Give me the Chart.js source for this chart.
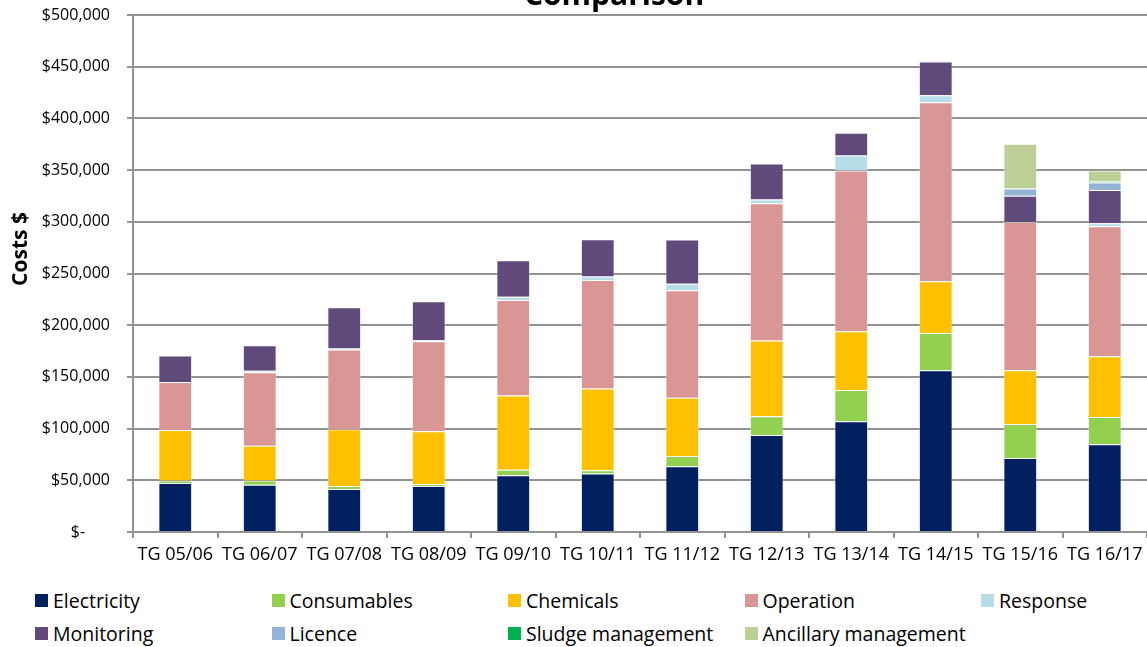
<!DOCTYPE html>
<html>
<head>
<meta charset="utf-8">
<script src="https://cdn.jsdelivr.net/npm/chart.js@4.4.1/dist/chart.umd.min.js"></script>
<style>
    html, body { margin: 0; padding: 0; background: #fff; }
    #wrap { position: relative; width: 1147px; height: 647px; overflow: hidden; font-family: 'Open Sans', sans-serif; }
    #chartBox { position: absolute; left: 0; top: 0; width: 1147px; height: 580px; }
    #legend { position: absolute; left: 35px; top: 584px; display: grid; grid-template-columns: repeat(5, 236.5px); grid-auto-rows: 33px; }
    .item { display: flex; align-items: center; font-size: 19.5px; color: #000; white-space: nowrap; }
    .swatch { width: 13px; height: 13px; margin-right: 5px; flex: none; }
</style>
</head>
<body>
<div id="wrap">
    <div id="chartBox"><canvas id="costChart" width="1147" height="580"></canvas></div>
    <div id="legend"></div>
</div>
<script>
const categories = ['TG 05/06', 'TG 06/07', 'TG 07/08', 'TG 08/09', 'TG 09/10', 'TG 10/11',
    'TG 11/12', 'TG 12/13', 'TG 13/14', 'TG 14/15', 'TG 15/16', 'TG 16/17'];

// valeurs ($)
const electricity = [47400, 45800, 41600, 44500, 54800, 56500, 63500, 93800, 107000, 156400, 71600, 84800];
const consumables = [2300, 3900, 2900, 1900, 5500, 3200, 10000, 18100, 30300, 36100, 32900, 26400];
const chemicals = [48900, 33800, 54800, 51000, 71800, 79000, 56400, 73200, 56800, 50000, 51900, 58700];
const operation = [46400, 70900, 77100, 87000, 92200, 105000, 103800, 132800, 155400, 173100, 143400, 125700];
const response = [null, 1600, 1000, 1000, 3300, 3300, 6500, 3600, 14500, 6800, null, 2900];
const monitoring = [25800, 24500, 39900, 37700, 35100, 36100, 42800, 34800, 22200, 32600, 25400, 32200];
const licence = [null, null, null, null, null, null, null, null, null, null, 7100, 7200];
const sludge = [null, null, null, null, null, null, null, null, null, null, null, 1000];
const ancillary = [null, null, null, null, null, null, null, null, null, null, 43200, 10600];

const yTicks = [0, 50000, 100000, 150000, 200000, 250000, 300000, 350000, 400000, 450000, 500000];

const series = [
    { label: 'Electricity', data: electricity, color: '#002060' },
    { label: 'Consumables', data: consumables, color: '#92D050' },
    { label: 'Chemicals', data: chemicals, color: '#FFC000' },
    { label: 'Operation', data: operation, color: '#DA9694' },
    { label: 'Response', data: response, color: '#B7DEE8' },
    { label: 'Monitoring', data: monitoring, color: '#604A7B' },
    { label: 'Licence', data: licence, color: '#95B3D7' },
    { label: 'Sludge management', data: sludge, color: '#00B050' },
    { label: 'Ancillary management', data: ancillary, color: '#BBCF97' }
];

const FONT = "'Open Sans', sans-serif";
const GRID = '#929292';

// titre coupé en haut + titre de l'axe Y
const titlesPlugin = {
    id: 'titles',
    afterDraw(chart) {
        const c = chart.ctx;
        c.save();
        c.fillStyle = '#000';
        c.font = 'bold 30px ' + FONT;
        c.textAlign = 'center';
        c.textBaseline = 'alphabetic';
        c.fillText('Comparison', 614, 5);
        c.translate(21, 249);
        c.rotate(-Math.PI / 2);
        c.font = 'bold 21px ' + FONT;
        c.textBaseline = 'middle';
        c.fillText('Costs $', 0, 0);
        c.restore();
    }
};

new Chart(document.getElementById('costChart').getContext('2d'), {
    type: 'bar',
    data: {
        labels: categories,
        datasets: series.map(s => ({
            label: s.label,
            data: s.data,
            backgroundColor: s.color,
            borderColor: 'rgba(255,255,255,0.35)',
            borderWidth: 1,
            barPercentage: 0.4,
            categoryPercentage: 1
        }))
    },
    options: {
        responsive: false,
        animation: false,
        layout: { padding: { top: 15, right: 0, bottom: 0, left: 0 } },
        plugins: {
            legend: { display: false },
            tooltip: { enabled: false },
            title: { display: false }
        },
        scales: {
            x: {
                stacked: true,
                afterFit: scale => { scale.height = 48; scale.paddingLeft = 0; scale.paddingRight = 0; },
                grid: { display: true, drawOnChartArea: false, drawTicks: true, tickLength: 6, color: GRID, lineWidth: 2, offset: true },
                border: { display: true, color: GRID, width: 2 },
                ticks: { color: '#000', font: { family: FONT, size: 18 }, padding: 6, maxRotation: 0, autoSkip: false }
            },
            y: {
                stacked: true,
                min: 0,
                max: 500000,
                afterFit: scale => { scale.width = 133; scale.paddingTop = 0; scale.paddingBottom = 0; },
                afterBuildTicks: scale => { scale.ticks = yTicks.map(v => ({ value: v })); },
                grid: { color: GRID, lineWidth: 2, drawTicks: true, tickLength: 6 },
                border: { display: true, color: GRID, width: 2 },
                ticks: {
                    color: '#000',
                    font: { family: FONT, size: 16 },
                    padding: 17,
                    callback: v => v === 0 ? '$-      ' : '$' + v.toLocaleString('en-US')
                }
            }
        }
    },
    plugins: [titlesPlugin]
});

const legendEl = document.getElementById('legend');
series.forEach(s => {
    legendEl.insertAdjacentHTML('beforeend',
        `<div class="item"><span class="swatch" style="background:${s.color}"></span>${s.label}</div>`);
});
</script>
</body>
</html>
